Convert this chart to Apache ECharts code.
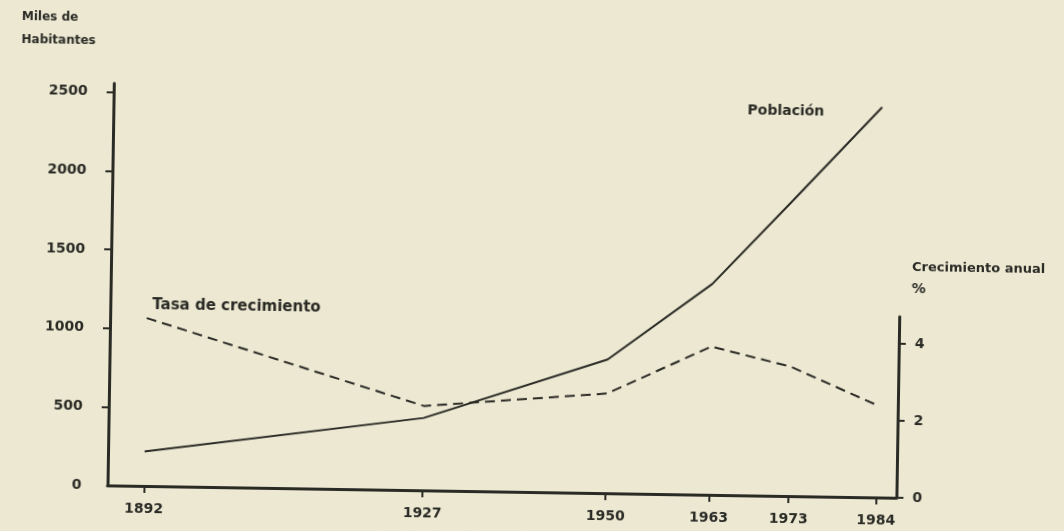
<!DOCTYPE html>
<html>
<head>
<meta charset="utf-8">
<script src="https://cdn.jsdelivr.net/npm/echarts@6/dist/echarts.min.js"></script>
<style>
  html, body { margin: 0; padding: 0; background: #ece8d2; overflow: hidden; }
  #chart { width: 1064px; height: 531px; background: #ece8d2; transform: rotate(0.9deg); transform-origin: 50% 50%; }
</style>
</head>
<body>
<div id="chart"></div>
<script>
// Census years (x axis)
const years = [1892, 1927, 1950, 1963, 1973, 1984];
// Population, thousands of inhabitants (left axis)
const population = [220, 460, 850, 1340, 1880, 2480];
// Annual growth rate, % (right axis)
const growthRate = [4.36, 2.19, 2.59, 3.85, 3.36, 2.39];
// Tick labels
const popTicks = [0, 500, 1000, 1500, 2000, 2500];
const rateTicks = [0, 2, 4];

const ink = '#2b2b26';
const font = '"DejaVu Sans", sans-serif';

const chart = echarts.init(document.getElementById('chart'), null, { renderer: 'canvas' });

const xCommon = {
  type: 'value', min: 1887.4, max: 1986.55
};
const labelStyle = { color: ink, fontFamily: font, fontWeight: 'bold', fontSize: 14, formatter: v => String(v) };

chart.setOption({
  backgroundColor: '#ece8d2',
  animation: false,
  grid: [
    { left: 111, right: 164, top: 90, bottom: 39 },
    { left: 111, right: 164, top: 311, bottom: 39 }
  ],
  xAxis: [
    Object.assign({}, xCommon, {
      gridIndex: 0,
      axisLine: { show: true, lineStyle: { color: ink, width: 3 } },
      axisTick: { show: true, length: 7, lineStyle: { color: ink, width: 2 }, customValues: years },
      axisLabel: Object.assign({ show: true, margin: 16, customValues: years }, labelStyle),
      splitLine: { show: false }
    }),
    Object.assign({}, xCommon, {
      gridIndex: 1, show: false
    })
  ],
  yAxis: [
    {
      type: 'value', gridIndex: 0, min: 0, max: 2555, position: 'left',
      axisLine: { show: true, lineStyle: { color: ink, width: 3 } },
      axisTick: { show: true, length: 7, lineStyle: { color: ink, width: 2 }, customValues: popTicks.slice(1) },
      axisLabel: Object.assign({ show: true, margin: 26, customValues: popTicks }, labelStyle),
      splitLine: { show: false }
    },
    {
      type: 'value', gridIndex: 1, min: 0, max: 4.7, position: 'right',
      axisLine: { show: true, lineStyle: { color: ink, width: 3 } },
      axisTick: { show: true, length: 7, lineStyle: { color: ink, width: 2 }, customValues: rateTicks },
      axisLabel: Object.assign({ show: true, margin: 16, customValues: rateTicks }, labelStyle),
      splitLine: { show: false }
    }
  ],
  series: [
    {
      name: 'Población', type: 'line', xAxisIndex: 0, yAxisIndex: 0,
      data: years.map((y, i) => [y, population[i]]),
      symbol: 'none', lineStyle: { color: ink, width: 2 }
    },
    {
      name: 'Tasa de crecimiento', type: 'line', xAxisIndex: 1, yAxisIndex: 1,
      data: years.map((y, i) => [y, growthRate[i]]),
      symbol: 'none', lineStyle: { color: ink, width: 2, type: [10, 6] }
    }
  ],
  graphic: [
    { type: 'text', left: 18, top: 19, style: { text: 'Miles de', fill: ink, font: 'bold 12px ' + font } },
    { type: 'text', left: 18, top: 42, style: { text: 'Habitantes', fill: ink, font: 'bold 12px ' + font } },
    { type: 'text', left: 745, top: 100, style: { text: 'Población', fill: ink, font: 'bold 14px ' + font } },
    { type: 'text', left: 153, top: 304, style: { text: 'Tasa de crecimiento', fill: ink, font: 'bold 15px ' + font } },
    { type: 'text', left: 912, top: 255, style: { text: 'Crecimiento anual', fill: ink, font: 'bold 13px ' + font } },
    { type: 'text', left: 912, top: 276, style: { text: '%', fill: ink, font: 'bold 14px ' + font } }
  ]
});
</script>
</body>
</html>
